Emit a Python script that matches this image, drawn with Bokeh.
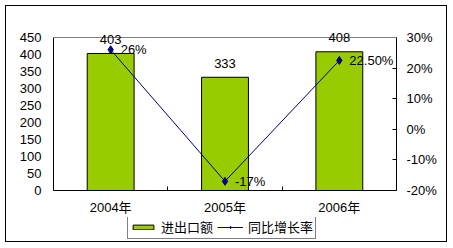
from bokeh.plotting import figure
from bokeh.layouts import column
from bokeh.models import (Range1d, LinearAxis, FixedTicker, NumeralTickFormatter, Span,
                          ColumnDataSource, LabelSet, Legend, LegendItem)
from bokeh.core.properties import value
from bokeh.embed import file_html
from bokeh.resources import INLINE

years = ["2004年", "2005年", "2006年"]
trade = [403, 333, 408]
growth = [0.26, -0.17, 0.225]
trade_labels = ["403", "333", "408"]
growth_labels = ["26%", "-17%", "22.50%"]
left_ticks = [0, 50, 100, 150, 200, 250, 300, 350, 400, 450]
right_ticks = [-0.2, -0.1, 0.0, 0.1, 0.2, 0.3]
series_names = ["进出口额", "同比增长率"]

FONT = "'Liberation Sans', 'Noto Sans CJK SC', sans-serif"
FS = "13px"

# layout (pixels, inside the outer border)
W = 440
HA, HB = 211, 24
PL, PR, PT, PB = 47, 50, 31, 27
HEAD = 12
frame_h = HA - PT - PB

ymin, ymax = left_ticks[0], left_ticks[-1]
rmin, rmax = right_ticks[0], right_ticks[-1]
ytop = ymax + (ymax - ymin) * HEAD / frame_h
rtop = rmax + (rmax - rmin) * HEAD / frame_h

xpos = [i + 0.5 for i in range(len(years))]
edges = [i for i in range(1, len(years))]

src = ColumnDataSource(dict(x=xpos, trade=trade, growth=growth,
                            tlab=trade_labels, glab=growth_labels))

p = figure(width=W, height=HA, x_range=Range1d(0, len(years)), y_range=Range1d(ymin, ytop),
           output_backend="svg", toolbar_location=None,
           x_axis_location=None, y_axis_location=None,
           min_border_left=PL, min_border_right=PR, min_border_top=PT - HEAD,
           min_border_bottom=PB)
p.extra_y_ranges = {"pct": Range1d(rmin, rtop)}
p.outline_line_color = None
p.background_fill_color = "white"
p.border_fill_color = "white"
p.xgrid.visible = False
p.ygrid.visible = False

yl = LinearAxis(ticker=FixedTicker(ticks=left_ticks), bounds=(ymin, ymax),
                major_tick_in=0, major_tick_out=0,
                minor_tick_line_color=None, axis_line_color="black", major_label_standoff=12,
                major_label_text_font_size=FS, major_label_text_font=FONT,
                major_label_text_color="black")
p.add_layout(yl, "left")

yr = LinearAxis(y_range_name="pct", ticker=FixedTicker(ticks=right_ticks), bounds=(rmin, rmax),
                formatter=NumeralTickFormatter(format="0%"),
                major_tick_in=4, major_tick_out=0, minor_tick_line_color=None,
                axis_line_color="black", major_label_standoff=10,
                major_label_text_font_size=FS, major_label_text_font=FONT,
                major_label_text_color="black")
p.add_layout(yr, "right")

xa = LinearAxis(ticker=FixedTicker(ticks=xpos, minor_ticks=edges),
                major_label_overrides={x: y for x, y in zip(xpos, years)},
                major_tick_line_color=None, minor_tick_in=4, minor_tick_out=0,
                minor_tick_line_color="black", axis_line_color="black",
                major_label_standoff=3,
                major_label_text_font_size=FS, major_label_text_font=FONT,
                major_label_text_color="black")
p.add_layout(xa, "below")

p.add_layout(Span(location=ymax, dimension="width", line_color="#808080", line_width=1))

bar_style = dict(fill_color="#99CC00", line_color="black", line_width=1)
line_style = dict(line_color="#000080", line_width=1)
mark_style = dict(marker="diamond", size=8, fill_color="#000080", line_color="#000080")

p.vbar(x="x", top="trade", width=0.41, source=src, **bar_style)
p.line(x="x", y="growth", source=src, y_range_name="pct", **line_style)
p.scatter(x="x", y="growth", source=src, y_range_name="pct", **mark_style)

p.add_layout(LabelSet(x="x", y="trade", text="tlab", source=src,
                      text_align="center", text_baseline="middle", y_offset=14,
                      text_font=value(FONT), text_font_size=FS, text_color="black"))
p.add_layout(LabelSet(x="x", y="growth", text="glab", source=src, y_range_name="pct",
                      text_align="left", text_baseline="middle", x_offset=10,
                      text_font=value(FONT), text_font_size=FS, text_color="black"))

# legend strip: same series drawn outside its visible range, only the legend shows
q = figure(width=W, height=HB, x_range=Range1d(0, len(years)), y_range=Range1d(1000, 2000),
           output_backend="svg", toolbar_location=None,
           x_axis_location=None, y_axis_location=None,
           min_border_left=PL, min_border_right=PR, min_border_top=0, min_border_bottom=0)
q.outline_line_color = None
q.background_fill_color = "white"
q.border_fill_color = "white"
q.xgrid.visible = False
q.ygrid.visible = False
lb = q.vbar(x="x", top="trade", width=0.41, source=src, **bar_style)
ll = q.line(x="x", y="growth", source=src, **line_style)
lm = q.scatter(x="x", y="growth", source=src, **mark_style)

legend = Legend(items=[LegendItem(label=series_names[0], renderers=[lb]),
                       LegendItem(label=series_names[1], renderers=[ll, lm])],
                orientation="horizontal", location=(74, 2),
                border_line_color="black", border_line_width=1,
                background_fill_color="white", background_fill_alpha=1,
                padding=2, spacing=4, label_standoff=5, glyph_width=26, glyph_height=6,
                label_height=14, margin=0,
                label_text_font=FONT, label_text_font_size=FS, label_text_color="black")
q.add_layout(legend)

layout = column(p, q, spacing=0, margin=(5, 0, 0, 5),
                styles={"border": "1px solid black"})

open("out.html", "w").write(file_html(layout, INLINE))
